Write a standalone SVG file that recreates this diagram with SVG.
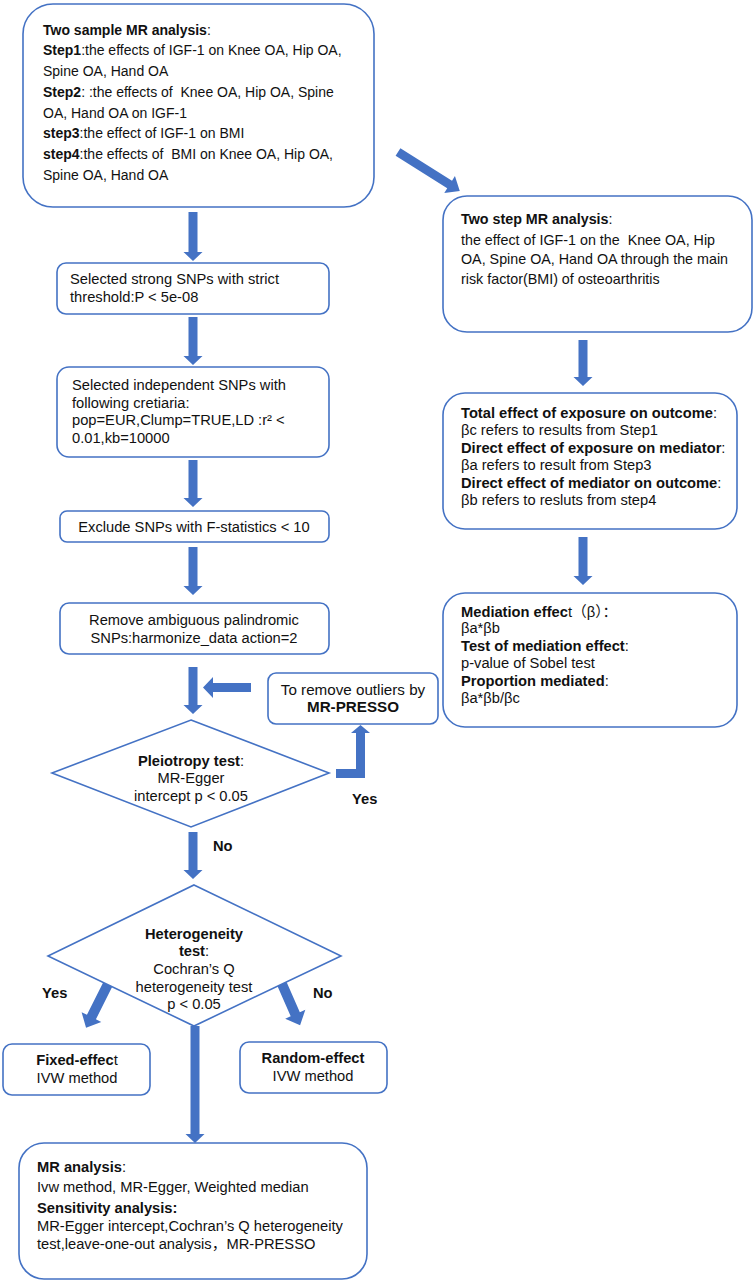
<svg xmlns="http://www.w3.org/2000/svg" width="754" height="1283" viewBox="0 0 754 1283">
<style>
.box{fill:#fff;stroke:#4472C4;stroke-width:1.6}
.arr{fill:#4472C4;stroke:none}
text{font-family:"Liberation Sans",Arial,"Noto Sans CJK SC",sans-serif;font-size:14px;fill:#111}
.s{font-size:14.7px}
.m{font-size:14.3px}
.l{font-size:15.2px}
.b{font-weight:bold}
.c{text-anchor:middle}
</style>
<rect width="754" height="1283" fill="#fff"/>
<g id="connectors">
<polygon class="arr" points="188.5,212 197.5,212 197.5,252 202.5,252 193,261 183.5,252 188.5,252"/>
<polygon class="arr" points="188.5,317 197.5,317 197.5,356 202.5,356 193,365 183.5,356 188.5,356"/>
<polygon class="arr" points="188.5,460 197.5,460 197.5,498 202.5,498 193,507 183.5,498 188.5,498"/>
<polygon class="arr" points="188.5,547 197.5,547 197.5,586 202.5,586 193,595 183.5,586 188.5,586"/>
<polygon class="arr" points="188.5,667 197.5,667 197.5,705 202.5,705 193,714 183.5,705 188.5,705"/>
<polygon class="arr" points="188.5,832 197.5,832 197.5,870 202.5,870 193,879 183.5,870 188.5,870"/>
<polygon class="arr" points="190.5,1026 199.5,1026 199.5,1134 204.5,1134 195,1143 185.5,1134 190.5,1134"/>
<polygon class="arr" points="578.5,340 587.5,340 587.5,377 592.5,377 583,386 573.5,377 578.5,377"/>
<polygon class="arr" points="578.5,537 587.5,537 587.5,576 592.5,576 583,585 573.5,576 578.5,576"/>
<polygon class="arr" points="251,683 213,683 213,677 203,687.5 213,698 213,692 251,692"/>
<polygon class="arr" points="336,769 356,769 356,733 351,733 360.5,725 370,733 365,733 365,778 336,778"/>
<polygon class="arr" transform="translate(398,152) rotate(32.2)" points="0,-4.5 61,-4.5 61,-10 73,0 61,10 61,4.5 0,4.5"/>
<polygon class="arr" transform="translate(108,984) rotate(116.6)" points="0,-5 37,-5 37,-11 49,0 37,11 37,5 0,5"/>
<polygon class="arr" transform="translate(282,984) rotate(66.3)" points="0,-5 33,-5 33,-11 45,0 33,11 33,5 0,5"/>
</g>
<g id="two-sample">
<rect class="box" x="23" y="4" width="351" height="203" rx="30"/>
<text x="43" y="35"><tspan class="b">Two sample MR analysis</tspan>:</text>
<text x="43" y="55"><tspan class="b">Step1</tspan>:the effects of IGF-1 on Knee OA, Hip OA,</text>
<text x="43" y="76">Spine OA, Hand OA</text>
<text x="43" y="97" xml:space="preserve"><tspan class="b">Step2</tspan>: :the effects of  Knee OA, Hip OA, Spine</text>
<text x="43" y="118">OA, Hand OA on IGF-1</text>
<text x="43" y="138"><tspan class="b">step3</tspan>:the effect of IGF-1 on BMI</text>
<text x="43" y="159" xml:space="preserve"><tspan class="b">step4</tspan>:the effects of  BMI on Knee OA, Hip OA,</text>
<text x="43" y="180">Spine OA, Hand OA</text>
</g>
<g id="two-step">
<rect class="box" x="443" y="196" width="309" height="136" rx="24"/>
<text class="m" x="461" y="224"><tspan class="b">Two step MR analysis</tspan>:</text>
<text class="m" x="461" y="245" xml:space="preserve">the effect of IGF-1 on the  Knee OA, Hip</text>
<text class="m" x="461" y="264">OA, Spine OA, Hand OA through the main</text>
<text class="m" x="461" y="284">risk factor(BMI) of osteoarthritis</text>
</g>
<g id="strong-snps">
<rect class="box" x="57" y="263" width="272" height="51" rx="9"/>
<text class="s" x="70" y="284">Selected strong SNPs with strict</text>
<text class="s" x="70" y="302">threshold:P &lt; 5e-08</text>
</g>
<g id="independent-snps">
<rect class="box" x="57" y="367" width="272" height="90" rx="12"/>
<text class="s" x="72" y="390">Selected independent SNPs with</text>
<text class="s" x="72" y="407.5">following cretiaria:</text>
<text class="s" x="72" y="425">pop=EUR,Clump=TRUE,LD :r² &lt;</text>
<text class="s" x="72" y="442.5">0.01,kb=10000</text>
</g>
<g id="exclude">
<rect class="box" x="60" y="511" width="269" height="31" rx="7"/>
<text class="s c" x="194" y="532">Exclude SNPs with F-statistics &lt; 10</text>
</g>
<g id="remove">
<rect class="box" x="60" y="603" width="269" height="51" rx="9"/>
<text class="s c" x="194" y="625">Remove ambiguous palindromic</text>
<text class="s c" x="194" y="643">SNPs:harmonize_data action=2</text>
</g>
<g id="mr-presso">
<rect class="box" x="268" y="673" width="170" height="51" rx="8"/>
<text class="l c" x="353" y="695">To remove outliers by</text>
<text class="l c b" x="353" y="712">MR-PRESSO</text>
</g>
<g id="pleiotropy">
<polygon class="box" points="191,720 329,773 191,827 52,773"/>
<text class="s c" x="191" y="766"><tspan class="b">Pleiotropy test</tspan>:</text>
<text class="s c" x="191" y="783">MR-Egger</text>
<text class="s c" x="191" y="801">intercept p &lt; 0.05</text>
<text class="s b" x="352" y="804">Yes</text>
<text class="s b" x="213" y="851">No</text>
</g>
<g id="heterogeneity">
<polygon class="box" points="194,885 341,956 194,1026 48,956"/>
<text class="s c b" x="194" y="939">Heterogeneity</text>
<text class="s c" x="194" y="956"><tspan class="b">test</tspan>:</text>
<text class="s c" x="194" y="974">Cochran’s Q</text>
<text class="s c" x="194" y="992">heterogeneity test</text>
<text class="s c" x="194" y="1009">p &lt; 0.05</text>
<text class="s b" x="42" y="998">Yes</text>
<text class="s b" x="313" y="998">No</text>
</g>
<g id="fixed-effect">
<rect class="box" x="3" y="1044" width="147" height="51" rx="9"/>
<text class="s c" x="77" y="1065"><tspan class="b">Fixed-effec</tspan>t</text>
<text class="s c" x="77" y="1083">IVW method</text>
</g>
<g id="random-effect">
<rect class="box" x="240" y="1042" width="147" height="51" rx="9"/>
<text class="s c b" x="313" y="1063">Random-effect</text>
<text class="s c" x="313" y="1081">IVW method</text>
</g>
<g id="total-effect">
<rect class="box" x="443" y="393" width="294" height="136" rx="22"/>
<text class="s" x="461" y="418"><tspan class="b">Total effect of exposure on outcome</tspan>:</text>
<text class="s" x="461" y="435">βc refers to results from Step1</text>
<text class="s" x="461" y="453"><tspan class="b">Direct effect of exposure on mediator</tspan>:</text>
<text class="s" x="461" y="470">βa refers to result from Step3</text>
<text class="s" x="461" y="488"><tspan class="b">Direct effect of mediator on outcome</tspan>:</text>
<text class="s" x="461" y="505">βb refers to resluts from step4</text>
</g>
<g id="mediation">
<rect class="box" x="443" y="593" width="294" height="134" rx="22"/>
<text class="s" x="461" y="617"><tspan class="b">Mediation effec</tspan>t（β）：</text>
<text class="s" x="461" y="633">βa*βb</text>
<text class="s" x="461" y="651"><tspan class="b">Test of mediation effect</tspan>:</text>
<text class="s" x="461" y="668">p-value of Sobel test</text>
<text class="s" x="461" y="686"><tspan class="b">Proportion mediated</tspan>:</text>
<text class="s" x="461" y="703">βa*βb/βc</text>
</g>
<g id="mr-analysis">
<rect class="box" x="19" y="1143" width="348" height="136" rx="25"/>
<text class="s" x="37" y="1172"><tspan class="b">MR analysis</tspan>:</text>
<text class="s" x="37" y="1192">Ivw method, MR-Egger, Weighted median</text>
<text class="s b" x="37" y="1213">Sensitivity analysis:</text>
<text class="s" x="37" y="1231">MR-Egger intercept,Cochran’s Q heterogeneity</text>
<text class="s" x="37" y="1249">test,leave-one-out analysis，MR-PRESSO</text>
</g>
</svg>
